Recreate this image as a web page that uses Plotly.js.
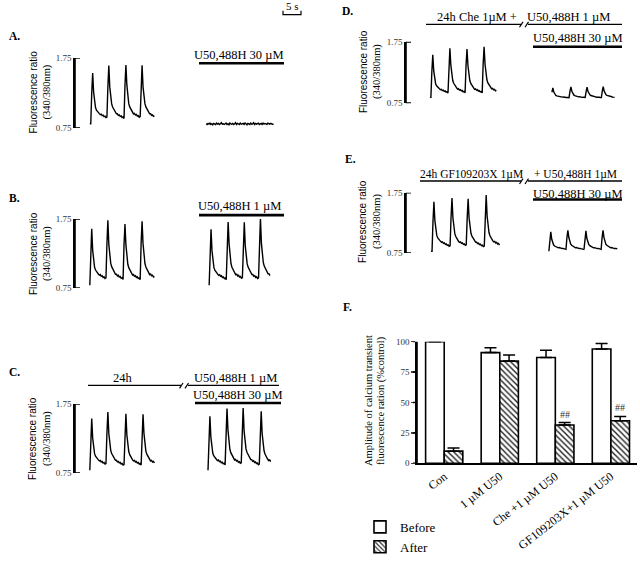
<!DOCTYPE html>
<html><head><meta charset="utf-8">
<script src="https://cdn.plot.ly/plotly-3.0.1.min.js"></script>
<style>html,body{margin:0;padding:0;background:#fff}#chart{width:640px;height:562px}</style>
</head><body><div id="chart"></div>
<script>
// ---------- DATA ----------
const timeStep = 0.25; // s per sample
// one calcium transient, normalised (0 = baseline, 1 = peak), sampled every 0.25 s from onset
const transientShape = [0,0.6,1,0.62,0.42,0.32,0.27,0.24,0.21,0.2,0.18,0.19,0.16,0.17,0.14,0.15,0.12,0.13,0.1,0.11,0.08,0.09,0.06,0.05,0.04,0.03,0.02,0.01,0];

// Panel A
const aLeftStart = 3.9, aLeftEnd = 21.0, aLeftBase = 0.81;
const aLeftPeakTimes = [4.7, 8.9, 13.4, 17.6];
const aLeftPeaks = [1.535, 1.56, 1.59, 1.56];
const aRightStart = 34.5;
const aRightValues = [0.81,0.80,0.815,0.805,0.82,0.80,0.81,0.795,0.815,0.81,0.80,0.82,0.805,0.815,0.80,0.81,0.825,0.805,0.81,0.80,0.815,0.82,0.80,0.81,0.795,0.82,0.81,0.805,0.815,0.80,0.81,0.825,0.80,0.815,0.81,0.80,0.82,0.805,0.81,0.815,0.80,0.82,0.81,0.795,0.815,0.81,0.80,0.82,0.805,0.81,0.825,0.80,0.815,0.805,0.81,0.82,0.80,0.81,0.815,0.80,0.82,0.805,0.815,0.81,0.80,0.82,0.81,0.805,0.815,0.81,0.80,0.81];

// Panel B
const bLeftStart = 3.9, bLeftEnd = 20.8, bBase = 0.79;
const bLeftPeakTimes = [4.5, 8.7, 13.2, 17.6];
const bLeftPeaks = [1.61, 1.64, 1.61, 1.65];
const bRightStart = 35.3, bRightEnd = 51.3;
const bRightPeakTimes = [35.8, 40.3, 44.5, 48.7];
const bRightPeaks = [1.60, 1.64, 1.61, 1.67];

// Panel C
const cLeftStart = 3.9, cLeftEnd = 21.0, cBase = 0.79;
const cLeftPeakTimes = [4.5, 8.7, 13.4, 17.9];
const cLeftPeaks = [1.54, 1.55, 1.54, 1.54];
const cRightStart = 35.0, cRightEnd = 51.5;
const cRightPeakTimes = [35.5, 40.0, 44.2, 49.0];
const cRightPeaks = [1.57, 1.62, 1.60, 1.57];

// Panel D
const dLeftStart = 6.3, dLeftEnd = 23.7, dLeftBase = 0.845;
const dLeftPeakTimes = [7.1, 11.6, 16.1, 20.5];
const dLeftPeaks = [1.54, 1.59, 1.575, 1.61];
const dRightStart = 38.4, dRightEnd = 55.0, dRightBase = 0.82;
const dRightPeakTimes = [38.7, 43.4, 47.6, 51.8];
const dRightPeaks = [1.0, 1.0, 0.99, 1.0];

// Panel E
const eLeftStart = 6.6, eLeftEnd = 24.5, eLeftBase = 0.78;
const eLeftPeakTimes = [7.4, 12.1, 16.3, 21.1];
const eLeftPeaks = [1.60, 1.59, 1.56, 1.64];
const eRightStart = 37.6, eRightEnd = 55.5, eRightBase = 0.78;
const eRightPeakTimes = [38.2, 42.6, 47.4, 51.8];
const eRightPeaks = [1.10, 1.10, 1.09, 1.10];

const traceTickVals = [0.75, 1.75];
const traceTickText = ['0.75', '1.75'];

// Panel F
const fCategories = ['Con', '1 µM U50', 'Che +1 µM U50', 'GF109203X+1 µM U50'];
const fBefore = [100, 91, 87, 94];
const fBeforeErr = [0, 4, 6, 4.5];
const fAfter = [10, 84, 31.5, 35];
const fAfterErr = [2.5, 5, 2, 3.5];
const fMarks = ['', '', '##', '##'];
const fMarkY = [0, 0, 40, 46];
const fTickVals = [0, 25, 50, 75, 100];

// ---------- BUILD ----------
const W = 640, H = 562, PPS = 3.8, AXW = 230, FXW = 220;
const px = x => x / W, py = y => 1 - y / H;
const SERIF = 'Liberation Serif, Times New Roman, serif';
const SANS = 'Liberation Sans, Arial, sans-serif';

function buildTrace(start, end, base, times, peaks) {
  const x = [], y = [];
  const n = Math.round((end - start) / timeStep);
  for (let i = 0; i <= n; i++) {
    const t = start + i * timeStep;
    let v = base;
    times.forEach((tp, k) => {
      const j = Math.round((t - (tp - 2 * timeStep)) / timeStep);
      if (j >= 0 && j < transientShape.length) v += (peaks[k] - base) * transientShape[j];
    });
    x.push(t); y.push(v);
  }
  return {x, y};
}
const lineStyle = {color: 'black', width: 1.4};
function tr(d, n) {
  return {type: 'scatter', mode: 'lines', x: d.x, y: d.y, line: lineStyle,
    xaxis: 'x' + (n === 1 ? '' : n), yaxis: 'y' + (n === 1 ? '' : n), showlegend: false, hoverinfo: 'skip'};
}
const aRight = {x: aRightValues.map((_, i) => aRightStart + i * timeStep), y: aRightValues};

const data = [
  tr(buildTrace(aLeftStart, aLeftEnd, aLeftBase, aLeftPeakTimes, aLeftPeaks), 1),
  tr(aRight, 1),
  tr(buildTrace(bLeftStart, bLeftEnd, bBase, bLeftPeakTimes, bLeftPeaks), 2),
  tr(buildTrace(bRightStart, bRightEnd, bBase, bRightPeakTimes, bRightPeaks), 2),
  tr(buildTrace(cLeftStart, cLeftEnd, cBase, cLeftPeakTimes, cLeftPeaks), 3),
  tr(buildTrace(cRightStart, cRightEnd, cBase, cRightPeakTimes, cRightPeaks), 3),
  tr(buildTrace(dLeftStart, dLeftEnd, dLeftBase, dLeftPeakTimes, dLeftPeaks), 4),
  tr(buildTrace(dRightStart, dRightEnd, dRightBase, dRightPeakTimes, dRightPeaks), 4),
  tr(buildTrace(eLeftStart, eLeftEnd, eLeftBase, eLeftPeakTimes, eLeftPeaks), 5),
  tr(buildTrace(eRightStart, eRightEnd, eRightBase, eRightPeakTimes, eRightPeaks), 5),
  {type: 'bar', name: 'Before', x: fCategories, y: fBefore, xaxis: 'x6', yaxis: 'y6',
    marker: {color: 'white', line: {color: 'black', width: 1.6}},
    error_y: {type: 'data', symmetric: false, array: fBeforeErr, arrayminus: fBeforeErr.map(() => 0), color: 'black', thickness: 1.5, width: 6}},
  {type: 'bar', name: 'After', x: fCategories, y: fAfter, xaxis: 'x6', yaxis: 'y6',
    marker: {color: 'white', line: {color: 'black', width: 1.6},
      pattern: {shape: '\\', fgcolor: '#222', bgcolor: 'white', size: 4, solidity: 0.35}},
    error_y: {type: 'data', symmetric: false, array: fAfterErr, arrayminus: fAfterErr.map(() => 0), color: 'black', thickness: 1.5, width: 6}}
];

const panels = [
  {n: 1, bx: 75, top: 59.5, bot: 131.5},
  {n: 2, bx: 75, top: 225, bot: 296},
  {n: 3, bx: 75, top: 415, bot: 486},
  {n: 4, bx: 406, top: 43, bot: 106},
  {n: 5, bx: 406, top: 198, bot: 260}
];

const layout = {
  width: W, height: H, margin: {l: 0, r: 0, t: 0, b: 0},
  paper_bgcolor: 'white', plot_bgcolor: 'rgba(0,0,0,0)',
  font: {family: SERIF, color: 'black'},
  barmode: 'group', bargap: 0.33, bargroupgap: 0,
  showlegend: true,
  legend: {x: px(360), y: py(526), xanchor: 'left', yanchor: 'top', bgcolor: 'rgba(0,0,0,0)',
    font: {family: SERIF, size: 13}, tracegroupgap: 0},
  annotations: [], shapes: []
};

function axShape(xr, yr, x0, x1, y0, y1, w) {
  layout.shapes.push({type: 'line', xref: xr, yref: yr, x0, x1, y0, y1, layer: 'above',
    line: {color: 'black', width: w}});
}

panels.forEach(p => {
  const s = p.n === 1 ? '' : p.n;
  layout['xaxis' + s] = {domain: [px(p.bx), px(p.bx + AXW)], range: [0, AXW / PPS],
    showticklabels: false, showline: false, ticks: '', showgrid: false, zeroline: false,
    anchor: 'y' + s, fixedrange: true};
  layout['yaxis' + s] = {domain: [py(p.bot), py(p.top)], range: [0.75, 1.75], anchor: 'x' + s,
    showline: true, linecolor: 'black', linewidth: 1.6, ticks: 'inside', ticklen: 5, tickwidth: 1.6,
    tickcolor: 'black', tickvals: traceTickVals, ticktext: traceTickText,
    tickfont: {family: SERIF, size: 9, color: '#333'}, showgrid: false, zeroline: false, fixedrange: true};
  // bracket-style axis line and inside ticks
  const xr = 'x' + s + ' domain', yr = 'y' + s;
  axShape(xr, yr, 0, 0, traceTickVals[0], traceTickVals[traceTickVals.length - 1], 1.6);
  traceTickVals.forEach(v => axShape(xr, yr, 0, 5 / AXW, v, v, 1.6));
});

layout.xaxis6 = {domain: [px(417), px(417 + FXW)], type: 'category', range: [-0.49, 3.47], anchor: 'y6',
  showline: true, linecolor: 'black', linewidth: 1.6, ticks: '', tickangle: -38,
  tickfont: {family: SERIF, size: 12}, showgrid: false, zeroline: false, fixedrange: true};
layout.yaxis6 = {domain: [py(476), py(351)], range: [0, 100], anchor: 'x6',
  showline: true, linecolor: 'black', linewidth: 1.6, ticks: 'outside', ticklen: 4, tickwidth: 1.4,
  tickvals: fTickVals, tickfont: {family: SERIF, size: 9, color: '#333'}, showgrid: false, zeroline: false, fixedrange: true};
axShape('x6 domain', 'y6', 0, 0, fTickVals[0], fTickVals[fTickVals.length - 1], 1.6);
fTickVals.forEach(v => axShape('x6 domain', 'y6', -4 / FXW, 0, v, v, 1.4));

function ann(text, x, y, opts) {
  layout.annotations.push(Object.assign({text, x: px(x), y: py(y), xref: 'paper', yref: 'paper',
    showarrow: false, xanchor: 'center', yanchor: 'middle', font: {family: SERIF, size: 12.5, color: 'black'}}, opts || {}));
}
function line(x0, y0, x1, y1, w) {
  layout.shapes.push({type: 'line', xref: 'paper', yref: 'paper', x0: px(x0), y0: py(y0), x1: px(x1), y1: py(y1),
    line: {color: 'black', width: w}});
}

// scale bar
ann('5 s', 292, 6.5, {font: {family: SERIF, size: 11}});
layout.shapes.push({type: 'path', xref: 'paper', yref: 'paper',
  path: `M ${px(283)} ${py(11)} L ${px(283)} ${py(15)} L ${px(301)} ${py(15)} L ${px(301)} ${py(11)}`,
  line: {color: 'black', width: 1.2}});

// panel letters
const bold = {font: {family: SERIF, size: 11.5}, xanchor: 'left'};
ann('<b>A.</b>', 7, 37, bold);
ann('<b>B.</b>', 7, 203, bold);
ann('<b>C.</b>', 7, 382, bold);
ann('<b>D.</b>', 340, 11, bold);
ann('<b>E.</b>', 343, 163, bold);
ann('<b>F.</b>', 341, 315, bold);

// y-axis labels of trace panels
[[33, 47, 95], [33, 47, 261], [33, 47, 451], [363, 377, 74], [363, 377, 228]].forEach(a => {
  ann('Fluorescence ratio', a[0], a[2], {textangle: -90, font: {family: SANS, size: 10}});
  ann('(340/380nm)', a[1], a[2], {textangle: -90, font: {family: SERIF, size: 10.5}});
});

// Panel A
ann('U50,488H 30 µM', 239, 56);
line(199, 65, 284, 65, 2.6);
// Panel B
ann('U50,488H 1 µM', 239, 212);
line(199, 221, 284, 221, 2.6);
// Panel C
ann('24h', 123, 388);
ann('U50,488H 1 µM', 235, 388);
ann('U50,488H 30 µM', 238, 406);
line(88, 396, 181, 396, 1.2);
line(179.5, 399, 183, 393.5, 1.2);
line(185, 399, 188.5, 393.5, 1.2);
line(188, 396, 279, 396, 1.2);
line(195, 414, 281, 414, 2.6);
// Panel D
ann('24h Che 1µM +', 477, 17);
ann('U50,488H 1 µM', 568, 17);
ann('U50,488H 30 µM', 578, 39);
line(426, 25, 521, 25, 1.4);
line(519.5, 28, 523, 22.5, 1.2);
line(525, 28, 528.5, 22.5, 1.2);
line(528, 25, 622, 25, 1.4);
line(533, 48, 622, 48, 2.6);
// Panel E
ann('24h GF109203X 1µM', 471, 179, {font: {family: SERIF, size: 11.5}});
ann('+ U50,488H 1µM', 575, 179, {font: {family: SERIF, size: 11.5}});
ann('U50,488H 30 µM', 578, 199);
line(420, 186, 521, 186, 1.4);
line(519.5, 189, 523, 183.5, 1.2);
line(525, 189, 528.5, 183.5, 1.2);
line(528, 186, 622, 186, 1.4);
line(533, 205, 622, 205, 2.6);

// Panel F
ann('Amplitude of calcium transient', 368, 412, {textangle: -90, font: {family: SERIF, size: 10.5}});
ann('fluorescence ration (%control)', 381, 412, {textangle: -90, font: {family: SERIF, size: 10.5}});
fMarks.forEach((m, i) => {
  if (!m) return;
  layout.annotations.push({text: m, x: i + 0.1675, y: fMarkY[i], xref: 'x6', yref: 'y6', showarrow: false,
    xanchor: 'center', yanchor: 'middle', font: {family: SERIF, size: 10, color: '#333'}});
});

Plotly.newPlot('chart', data, layout, {displayModeBar: false, staticPlot: true});
</script></body></html>
